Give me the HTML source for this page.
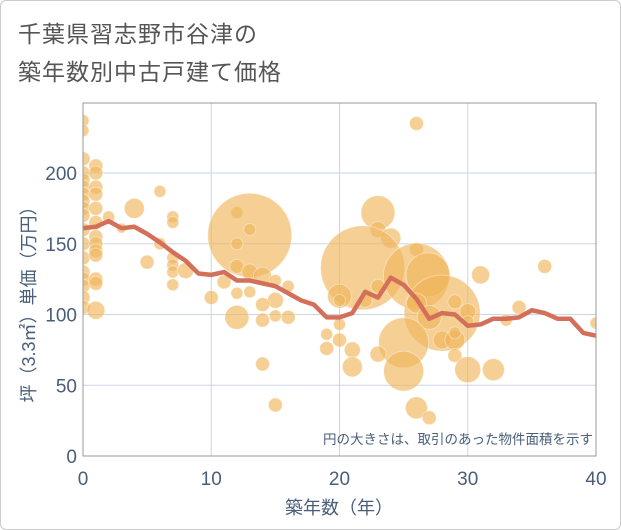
<!DOCTYPE html>
<html><head><meta charset="utf-8">
<style>
html,body{margin:0;padding:0;background:#fff;}
body{width:621px;height:530px;overflow:hidden;font-family:"Liberation Sans","Noto Sans CJK JP",sans-serif;}
#frame{position:absolute;left:0;top:0;width:619px;height:528px;border:1px solid #ccc;border-radius:6px;}
.title{position:absolute;left:18px;font-size:23px;color:#555;letter-spacing:1px;}
</style></head>
<body>
<div id="frame"></div>
<div class="title" style="top:15px">千葉県習志野市谷津の</div>
<div class="title" style="top:53px">築年数別中古戸建て価格</div>
<svg id="chart" width="621" height="530" style="position:absolute;left:0;top:0"></svg>
<script>
const xTicks=[0,10,20,30,40];
const yTicks=[0,50,100,150,200];
const lineYears=[0,1,2,3,4,5,6,7,8,9,10,11,12,13,14,15,16,17,18,19,20,21,22,23,24,25,26,27,28,29,30,31,32,33,34,35,36,37,38,39,40];
const lineValues=[161,162,166,161,162,157,151,144,138,129,128,130,124,124,122,120,115,110,107,98,98,101,116,112,126,121,111,97,101,100,92,93,97,97,98,103,101,97,97,87,85];
const bubbleYears=[0,0,0,0,0,0,0,0,0,0,0,0,0,0,0,0,0,0,1,1,1,1,1,1,1,1,1,1,1,1,1,2,3,4,5,6,6,7,7,7,7,7,7,8,10,11,12,13,12,13,12,13,12,13,14,15,15,14,12,14,15,16,16,14,15,26,23,23,24,21.8,26,26,26.9,20,20,23,22,28,26,27,29,30,30,31,36,34,33,40,19,19,20,20,21,21,25,25,23,28,29,29,29,30,32,26,27];
const bubbleValues=[237,230,210,200,195,190,185,180,175,170,160,150,140,130,125,120,112,105,205,200,190,185,175,165,155,150,145,142,125,122,103,169,161,175,137,187,150,169,165,140,135,130,121,131,112,123,172,156,150,160,134,130,115,116,127,124,110,107,98,96,99,98,120,65,36,235,172,160,154,133,146,127,128,113,110,120,110,101,108,98,109,102,95,128,134,105,96,94,86,76,93,82,75,63,80,60,72,82,82,71,87,61,61,34,27];
const bubbleSizes=[6,6,7,7,7,7,7,7,7,7,7,7,7,7,7,7,7,7,7,7,7,7,7,7,7,7,7,7,7,7,9,6,5,10,7,6,6,6,6,6,6,6,6,8,7,7,6,42,6,6,7,8,6,6,9,6,8,7,12,7,6,7,6,7,7,7,17,8,10,42,7,33,22,12,6,7,7,38,10,12,7,8,6,9,7,7,6,6,6,7,6,7,8,10,25,20,8,9,10,7,6,13,11,11,7];
const NS='http://www.w3.org/2000/svg';
const svg=document.getElementById('chart');
const L=83,R=596,T=103,B=456;
const xs=v=>L+(v-0)/40*(R-L);
const ys=v=>B-v*(456-173)/200;
function mk(tag,attrs){const e=document.createElementNS(NS,tag);for(const k in attrs)e.setAttribute(k,attrs[k]);svg.appendChild(e);return e;}
const clip=mk('clipPath',{id:'pc'});
const cr=document.createElementNS(NS,'rect');cr.setAttribute('x',L);cr.setAttribute('y',T);cr.setAttribute('width',R-L);cr.setAttribute('height',B-T);clip.appendChild(cr);
xTicks.forEach(t=>{
  const g=mk('line',{x1:xs(t),x2:xs(t),y1:T,y2:B,stroke:'#c9d6e8','stroke-width':1});
  
  const tx=mk('text',{x:xs(t),y:485,'text-anchor':'middle','font-size':19,fill:'#4a5e7a'});
  tx.textContent=t;
});
yTicks.forEach(t=>{
  const g=mk('line',{x1:L,x2:R,y1:ys(t),y2:ys(t),stroke:'#c9d6e8','stroke-width':1});
  
  const tx=mk('text',{x:77,y:ys(t)+7,'text-anchor':'end','font-size':19,fill:'#4a5e7a'});
  tx.textContent=t;
});
const gb=mk('g',{'clip-path':'url(#pc)'});
bubbleYears.forEach((yr,i)=>{
  const c=document.createElementNS(NS,'circle');
  c.setAttribute('cx',xs(yr));c.setAttribute('cy',ys(bubbleValues[i]));c.setAttribute('r',bubbleSizes[i]);
  c.setAttribute('fill','#f0b55a');c.setAttribute('fill-opacity','0.65');c.setAttribute('stroke','#fff');c.setAttribute('stroke-opacity','0.4');c.setAttribute('stroke-width','1');
  
  
  gb.appendChild(c);
});
const pl=mk('polyline',{points:lineYears.map((y,i)=>xs(y)+','+ys(lineValues[i])).join(' '),fill:'none',stroke:'#d4705a','stroke-width':4.5,'stroke-linejoin':'round','clip-path':'url(#pc)'});

const bd=mk('rect',{x:L,y:T,width:R-L,height:B-T,fill:'none',stroke:'#999','stroke-width':1});

const note=mk('text',{x:593,y:444,'text-anchor':'end','font-size':13.5,fill:'#4a5e7a'});
note.textContent='円の大きさは、取引のあった物件面積を示す';
const xt=mk('text',{x:339,y:514,'text-anchor':'middle','font-size':18,fill:'#4a5e7a'});
xt.textContent='築年数（年）';
const yt=mk('text',{x:0,y:0,'text-anchor':'middle','font-size':18,fill:'#4a5e7a',transform:'translate(35,300) rotate(-90)'});
yt.textContent='坪（3.3㎡）単価（万円）';
</script>
</body></html>
